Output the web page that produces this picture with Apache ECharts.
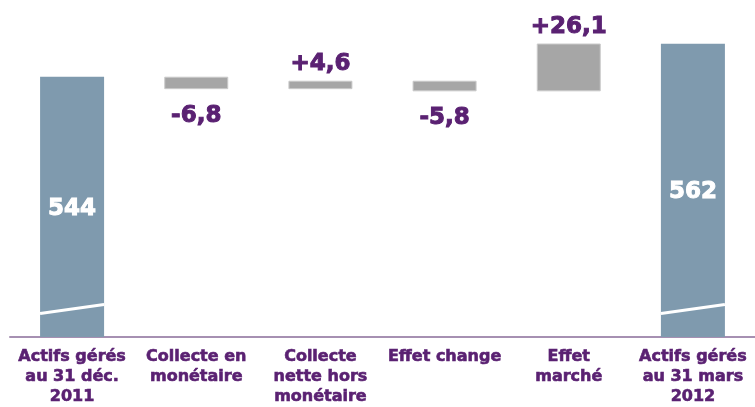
<!DOCTYPE html>
<html>
<head>
<meta charset="utf-8">
<script src="https://cdn.jsdelivr.net/npm/echarts@6/dist/echarts.min.js"></script>
<style>
html,body{margin:0;padding:0;background:#fff;}
#chart{width:755px;height:407px;}
</style>
</head>
<body>
<div id="chart"></div>
<script>
// ---- data ----
const categories = [
  'Actifs gérés\nau 31 déc.\n2011',
  'Collecte en\nmonétaire',
  'Collecte\nnette hors\nmonétaire',
  'Effet change',
  'Effet\nmarché',
  'Actifs gérés\nau 31 mars\n2012'
];
const startTotal = 544;
const deltas = [-6.8, 4.6, -5.8, 26.1];
const endTotal = 562;

// ---- derived waterfall arrays ----
const baseVals = ['-'];
const stepVals = ['-'];
let running = startTotal;
deltas.forEach(d => {
  baseVals.push(d < 0 ? running + d : running);
  stepVals.push(Math.abs(d));
  running += d;
});
baseVals.push('-');
stepVals.push('-');
const totalVals = [startTotal, '-', '-', '-', '-', endTotal];
const fmt = v => (v > 0 ? '+' : '') + v.toFixed(1).replace('.', ',');

const Y_MIN = 402, Y_MAX = 580;
const BAR_W = 64;
const FONT = 'DejaVu Sans';
const PURPLE = '#5a2172';

const chart = echarts.init(document.getElementById('chart'));
chart.setOption({
  animation: false,
  backgroundColor: '#ffffff',
  grid: { left: 10, width: 748, top: 10.7, bottom: 70, containLabel: false },
  xAxis: {
    type: 'category',
    data: categories,
    axisLine: { lineStyle: { color: '#a690b2', width: 2 } },
    axisTick: { show: false },
    axisLabel: {
      interval: 0,
      margin: 10,
      color: PURPLE,
      fontFamily: FONT,
      fontWeight: 'bold',
      fontSize: 16,
      lineHeight: 20,
      verticalAlign: 'top',
      textBorderColor: PURPLE,
      textBorderWidth: 0.6
    }
  },
  yAxis: {
    type: 'value', min: Y_MIN, max: Y_MAX,
    show: false, splitLine: { show: false }
  },
  series: [
    {
      type: 'bar', name: 'total', data: totalVals, barWidth: BAR_W, barGap: '-100%',
      itemStyle: { color: '#7f9aae' },
      label: {
        show: true, position: 'inside', color: '#ffffff',
        fontFamily: FONT, fontWeight: 'bold', fontSize: 23,
        textBorderColor: '#ffffff', textBorderWidth: 1,
        offset: [0, 2],
        formatter: p => String(p.value)
      },
      z: 2
    },
    {
      type: 'bar', name: 'base', stack: 'w', data: baseVals, barWidth: BAR_W, barGap: '-100%',
      itemStyle: { color: 'rgba(0,0,0,0)' }, silent: true
    },
    {
      type: 'bar', name: 'step', stack: 'w', barWidth: BAR_W, barGap: '-100%',
      data: stepVals.map((v, i) => {
        if (v === '-') return '-';
        const d = deltas[i - 1];
        return {
          value: v,
          label: {
            show: true,
            position: d < 0 ? 'bottom' : 'top',
            distance: d < 0 ? 15 : 5,
            formatter: fmt(d)
          }
        };
      }),
      itemStyle: { color: '#a6a6a6', borderColor: '#cacaca', borderWidth: 1 },
      label: {
        color: PURPLE, fontFamily: FONT, fontWeight: 'bold', fontSize: 23,
        textBorderColor: PURPLE, textBorderWidth: 1
      }
    },
    {
      type: 'custom', name: 'break', z: 5,
      data: [[0], [5]],
      renderItem: (params, api) => {
        const c = api.coord([api.value(0), Y_MIN]);
        const x0 = c[0] - BAR_W / 2, x1 = c[0] + BAR_W / 2;
        const yc = c[1] - 28;
        return {
          type: 'line',
          shape: { x1: x0, y1: yc + 4.5, x2: x1, y2: yc - 4.5 },
          style: { stroke: '#ffffff', lineWidth: 3 }
        };
      }
    }
  ]
});
</script>
</body>
</html>
